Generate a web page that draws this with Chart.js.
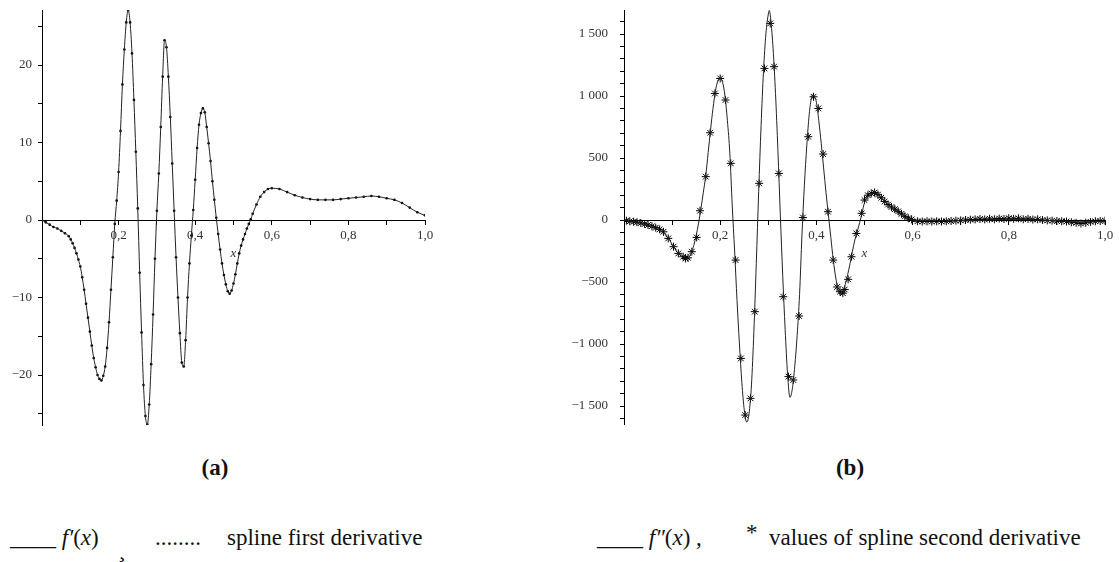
<!DOCTYPE html>
<html>
<head>
  <title>f' and f'' vs spline derivatives</title>
  <script src="https://cdn.jsdelivr.net/npm/chart.js"></script>
  <style>
    body { margin: 0; background: #fff; width: 1119px; height: 562px; position: relative; overflow: hidden;
           font-family: "Liberation Serif", "Times New Roman", "DejaVu Serif", serif; color: #111; }
    canvas { position: absolute; top: 0; }
    .cap { position: absolute; font-weight: bold; font-size: 23px; transform: translate(-50%, -50%); }
    .leg { position: absolute; font-size: 23px; white-space: pre; transform: translateY(-50%); }
  </style>
</head>
<body>
  <canvas id="chart-a" width="560" height="440" style="left:0"></canvas>
  <canvas id="chart-b" width="559" height="440" style="left:560px"></canvas>

  <div class="cap" style="left:215px; top:468px">(a)</div>
  <div class="cap" style="left:850px; top:468px">(b)</div>

  <div class="leg" style="left:10px; top:538px">____ <i>f′</i>(<i>x</i>)</div>
  <div class="leg" style="left:118px; top:550px">¸</div>
  <div class="leg" style="left:155px; top:538px">........</div>
  <div class="leg" style="left:227px; top:538px">spline first derivative</div>
  <div class="leg" style="left:597px; top:538px">____ <i>f″</i>(<i>x</i>) ,</div>
  <div class="leg" style="left:746px; top:533px">*</div>
  <div class="leg" style="left:769px; top:538px">values of spline second derivative</div>

  <script>
    // (a) f'(x), [x, y]
    const fPrime = [
      [0, 0], [0.01, -0.3], [0.02, -0.6], [0.03, -0.9], [0.04, -1.1], [0.05, -1.4], [0.06, -1.7],
      [0.07, -2.1], [0.075, -2.5], [0.08, -3.0], [0.085, -3.6], [0.09, -4.3], [0.095, -5.1],
      [0.100, -6.0], [0.105, -7.4], [0.110, -9.0], [0.115, -10.8], [0.120, -12.6], [0.125, -14.4],
      [0.130, -16.2], [0.135, -17.8], [0.140, -19.0], [0.145, -20.0], [0.150, -20.5], [0.155, -20.7],
      [0.160, -20.1], [0.165, -18.9], [0.170, -16.5], [0.175, -13.2], [0.180, -9.0], [0.185, -4.8],
      [0.190, -0.5], [0.195, 2.5], [0.200, 6.2], [0.205, 11.5], [0.210, 17.5], [0.215, 22.0],
      [0.220, 25.5], [0.225, 27.1], [0.230, 25.5], [0.235, 21.5], [0.240, 15.5], [0.245, 8.8],
      [0.250, 1.5], [0.255, -6.8], [0.260, -14.5], [0.265, -21.3], [0.270, -25.3], [0.275, -26.4],
      [0.280, -23.8], [0.285, -18.6], [0.290, -12.2], [0.295, -5.0], [0.300, 1.2], [0.305, 6.0],
      [0.310, 12.0], [0.315, 18.5], [0.320, 23.2], [0.325, 22.3], [0.330, 18.5], [0.335, 13.3],
      [0.340, 7.3], [0.345, 1.2], [0.350, -4.8], [0.355, -10.0], [0.360, -14.6], [0.365, -18.4],
      [0.370, -18.9], [0.375, -15.5], [0.380, -10.0], [0.385, -5.6], [0.390, -2.0], [0.395, 1.3],
      [0.400, 5.2], [0.405, 9.3], [0.410, 12.3], [0.415, 13.8], [0.420, 14.4], [0.425, 13.9],
      [0.430, 12.0], [0.435, 9.9], [0.440, 7.6], [0.445, 5.0], [0.450, 2.6], [0.455, 0.3],
      [0.460, -1.8], [0.465, -3.8], [0.470, -5.6], [0.475, -7.1], [0.480, -8.3], [0.485, -9.2],
      [0.490, -9.5], [0.495, -9.1], [0.500, -8.2], [0.505, -7.0], [0.510, -5.6], [0.515, -4.3],
      [0.520, -3.3], [0.525, -2.5], [0.530, -1.8], [0.535, -1.1], [0.540, -0.5], [0.545, 0.1],
      [0.550, 0.8], [0.56, 2.0], [0.57, 3.0], [0.58, 3.6], [0.59, 4.0], [0.60, 4.1], [0.62, 4.0],
      [0.64, 3.6], [0.66, 3.2], [0.68, 2.9], [0.70, 2.7], [0.72, 2.6], [0.74, 2.6], [0.76, 2.6],
      [0.78, 2.7], [0.80, 2.8], [0.82, 2.9], [0.84, 3.0], [0.86, 3.1], [0.88, 3.0], [0.90, 2.8],
      [0.92, 2.6], [0.94, 2.2], [0.96, 1.6], [0.98, 1.0], [1.00, 0.6]
    ];
    // spline first derivative sits on top of f' at the same sample points
    const splineD1 = fPrime;

    // (b) f''(x), [x, y]
    const fSecond = [
      [0, 0], [0.02, -10], [0.04, -30], [0.06, -55], [0.08, -95], [0.09, -135], [0.10, -195],
      [0.11, -255], [0.12, -295], [0.13, -310], [0.135, -300], [0.14, -265], [0.145, -205],
      [0.15, -125], [0.155, -25], [0.16, 95], [0.165, 225], [0.17, 360], [0.175, 545], [0.18, 730],
      [0.185, 900], [0.19, 1040], [0.195, 1120], [0.20, 1145], [0.205, 1110], [0.21, 1000],
      [0.215, 800], [0.22, 540], [0.225, 120], [0.23, -250], [0.235, -650], [0.24, -1000],
      [0.245, -1310], [0.25, -1530], [0.255, -1630], [0.26, -1560], [0.265, -1330], [0.27, -900],
      [0.275, -350], [0.28, 230], [0.285, 760], [0.29, 1200], [0.295, 1500], [0.30, 1660],
      [0.302, 1690], [0.305, 1620], [0.31, 1380], [0.315, 1020], [0.32, 560], [0.325, 40],
      [0.33, -450], [0.335, -880], [0.34, -1240], [0.345, -1430], [0.35, -1360], [0.355, -1180],
      [0.36, -930], [0.365, -600], [0.37, -120], [0.375, 280], [0.38, 600], [0.385, 850],
      [0.39, 990], [0.393, 1010], [0.395, 1000], [0.40, 950], [0.405, 800], [0.41, 620],
      [0.415, 420], [0.42, 220], [0.425, 40], [0.43, -140], [0.435, -320], [0.44, -460],
      [0.445, -560], [0.45, -600], [0.455, -580], [0.46, -520], [0.465, -440], [0.47, -350],
      [0.475, -250], [0.48, -160], [0.485, -90], [0.49, -20], [0.495, 60], [0.50, 140], [0.51, 200],
      [0.52, 220], [0.53, 200], [0.54, 160], [0.55, 120], [0.56, 90], [0.57, 60], [0.58, 30],
      [0.59, 10], [0.60, 0], [0.65, -5], [0.70, -5], [0.75, 0], [0.80, 5], [0.85, 0], [0.90, -5],
      [0.95, -15], [1.0, -10]
    ];
    // values of spline second derivative (the * marks)
    const splineD2 = [
      [0.005, -5], [0.012, -10], [0.02, -14], [0.027, -18], [0.035, -24], [0.043, -32], [0.05, -40],
      [0.058, -50], [0.066, -62], [0.074, -75], [0.082, -95], [0.092, -148], [0.103, -215],
      [0.113, -269], [0.123, -296], [0.128, -310], [0.133, -305], [0.141, -255], [0.151, -140],
      [0.158, 75], [0.170, 350], [0.179, 704], [0.189, 1021], [0.200, 1142], [0.211, 968],
      [0.222, 457], [0.232, -323], [0.243, -1116], [0.252, -1573], [0.263, -1438], [0.272, -739],
      [0.281, 296], [0.292, 1223], [0.304, 1586], [0.312, 1237], [0.322, 376], [0.331, -618],
      [0.342, -1263], [0.352, -1290], [0.364, -774], [0.372, 20], [0.383, 672], [0.394, 994],
      [0.404, 900], [0.414, 532], [0.424, 67], [0.435, -323], [0.443, -540], [0.449, -578],
      [0.455, -590], [0.459, -560], [0.466, -478], [0.473, -296], [0.483, -108], [0.494, 54],
      [0.500, 161], [0.507, 200], [0.514, 215], [0.521, 222], [0.528, 205], [0.535, 180],
      [0.542, 150], [0.549, 125], [0.556, 105], [0.563, 88], [0.570, 70], [0.577, 50], [0.584, 30],
      [0.591, 15], [0.598, 5], [0.61, -10], [0.62, -12], [0.63, -10], [0.64, -12], [0.65, -10],
      [0.66, -12], [0.67, -10], [0.68, -8], [0.69, -5], [0.70, -3], [0.71, 0], [0.72, 3], [0.73, 5],
      [0.74, 8], [0.75, 5], [0.76, 10], [0.77, 6], [0.78, 12], [0.79, 8], [0.80, 15], [0.81, 10],
      [0.82, 14], [0.83, 6], [0.84, 10], [0.85, 4], [0.86, 6], [0.87, 0], [0.88, -3], [0.89, -5],
      [0.90, -8], [0.91, -10], [0.92, -12], [0.93, -18], [0.94, -22], [0.95, -28], [0.96, -22],
      [0.97, -15], [0.98, -10], [0.99, -8], [1.00, -5]
    ];

    const toXY = arr => arr.map(p => ({ x: p[0], y: p[1] }));
    const serif = '"Liberation Serif", "Times New Roman", "DejaVu Serif", serif';
    const tickFont = { family: serif, size: 13 };
    const minus = s => s.replace('-', '\u2212');

    const xTitle = {
      id: 'xTitle',
      afterDraw(chart) {
        const { ctx, scales } = chart;
        ctx.save();
        ctx.font = 'italic 13px ' + serif;
        ctx.fillStyle = '#333';
        ctx.textAlign = 'center';
        ctx.textBaseline = 'middle';
        ctx.fillText('x', scales.x.getPixelForValue(0.5), scales.y.getPixelForValue(0) + 34);
        ctx.restore();
      }
    };

    function makeChart(id, datasets, yOpts, yWidth, padding) {
      return new Chart(document.getElementById(id), {
        type: 'scatter',
        data: { datasets: datasets },
        plugins: [xTitle],
        options: {
          responsive: false,
          animation: false,
          layout: { padding: padding },
          plugins: { legend: { display: false }, tooltip: { enabled: false } },
          scales: {
            x: {
              type: 'linear',
              min: 0, max: 1,
              position: { y: 0 },
              afterFit(s) { s.height = 0; s.paddingLeft = 0; s.paddingRight = 0; },
              border: { color: '#000', width: 1 },
              grid: { drawOnChartArea: false, tickLength: 4, color: '#000' },
              ticks: {
                stepSize: 0.1, includeBounds: false, maxRotation: 0, autoSkip: false,
                padding: 4, font: tickFont, color: '#333',
                callback: v => {
                  const r = Math.round(v * 10);
                  return (r % 2 === 0 && r !== 0) ? (r / 10).toFixed(1).replace('.', ',') : '';
                }
              }
            },
            y: Object.assign({
              type: 'linear',
              position: 'left',
              afterFit(s) { s.width = yWidth; s.paddingTop = 0; s.paddingBottom = 0; },
              border: { color: '#000', width: 1 },
              grid: { drawOnChartArea: false, tickLength: 4, color: '#000' }
            }, yOpts)
          }
        }
      });
    }

    makeChart('chart-a', [
      {
        label: "f'(x)", data: toXY(fPrime), showLine: true, borderColor: '#222', borderWidth: 1,
        pointRadius: 0, cubicInterpolationMode: 'monotone'
      },
      {
        label: 'spline first derivative', data: toXY(splineD1), showLine: false,
        pointRadius: 1.3, pointBackgroundColor: '#000', pointBorderWidth: 0
      }
    ], {
      min: -26.45, max: 27.1,
      ticks: {
        stepSize: 5, includeBounds: false, autoSkip: false, padding: 6, font: tickFont, color: '#333',
        callback: v => (v % 10 === 0 ? minus(String(v)) : '')
      }
    }, 42, { left: 0, top: 10, right: 135, bottom: 15 });

    makeChart('chart-b', [
      {
        label: "f''(x)", data: toXY(fSecond), showLine: true, borderColor: '#222', borderWidth: 1,
        pointRadius: 0, cubicInterpolationMode: 'monotone'
      },
      {
        label: 'values of spline second derivative', data: toXY(splineD2), showLine: false,
        pointStyle: 'star', pointRadius: 4, borderColor: '#000', pointBorderWidth: 1
      }
    ], {
      min: -1645, max: 1694,
      ticks: {
        stepSize: 100, includeBounds: false, autoSkip: false, padding: 12, font: tickFont, color: '#333',
        callback: v => {
          if (v % 500 !== 0) return '';
          const a = Math.abs(v);
          const s = a >= 1000 ? Math.floor(a / 1000) + ' ' + String(a % 1000).padStart(3, '0') : String(a);
          return (v < 0 ? '\u2212' : '') + s;
        }
      }
    }, 64, { left: 0, top: 10, right: 14, bottom: 16 });
  </script>
</body>
</html>
